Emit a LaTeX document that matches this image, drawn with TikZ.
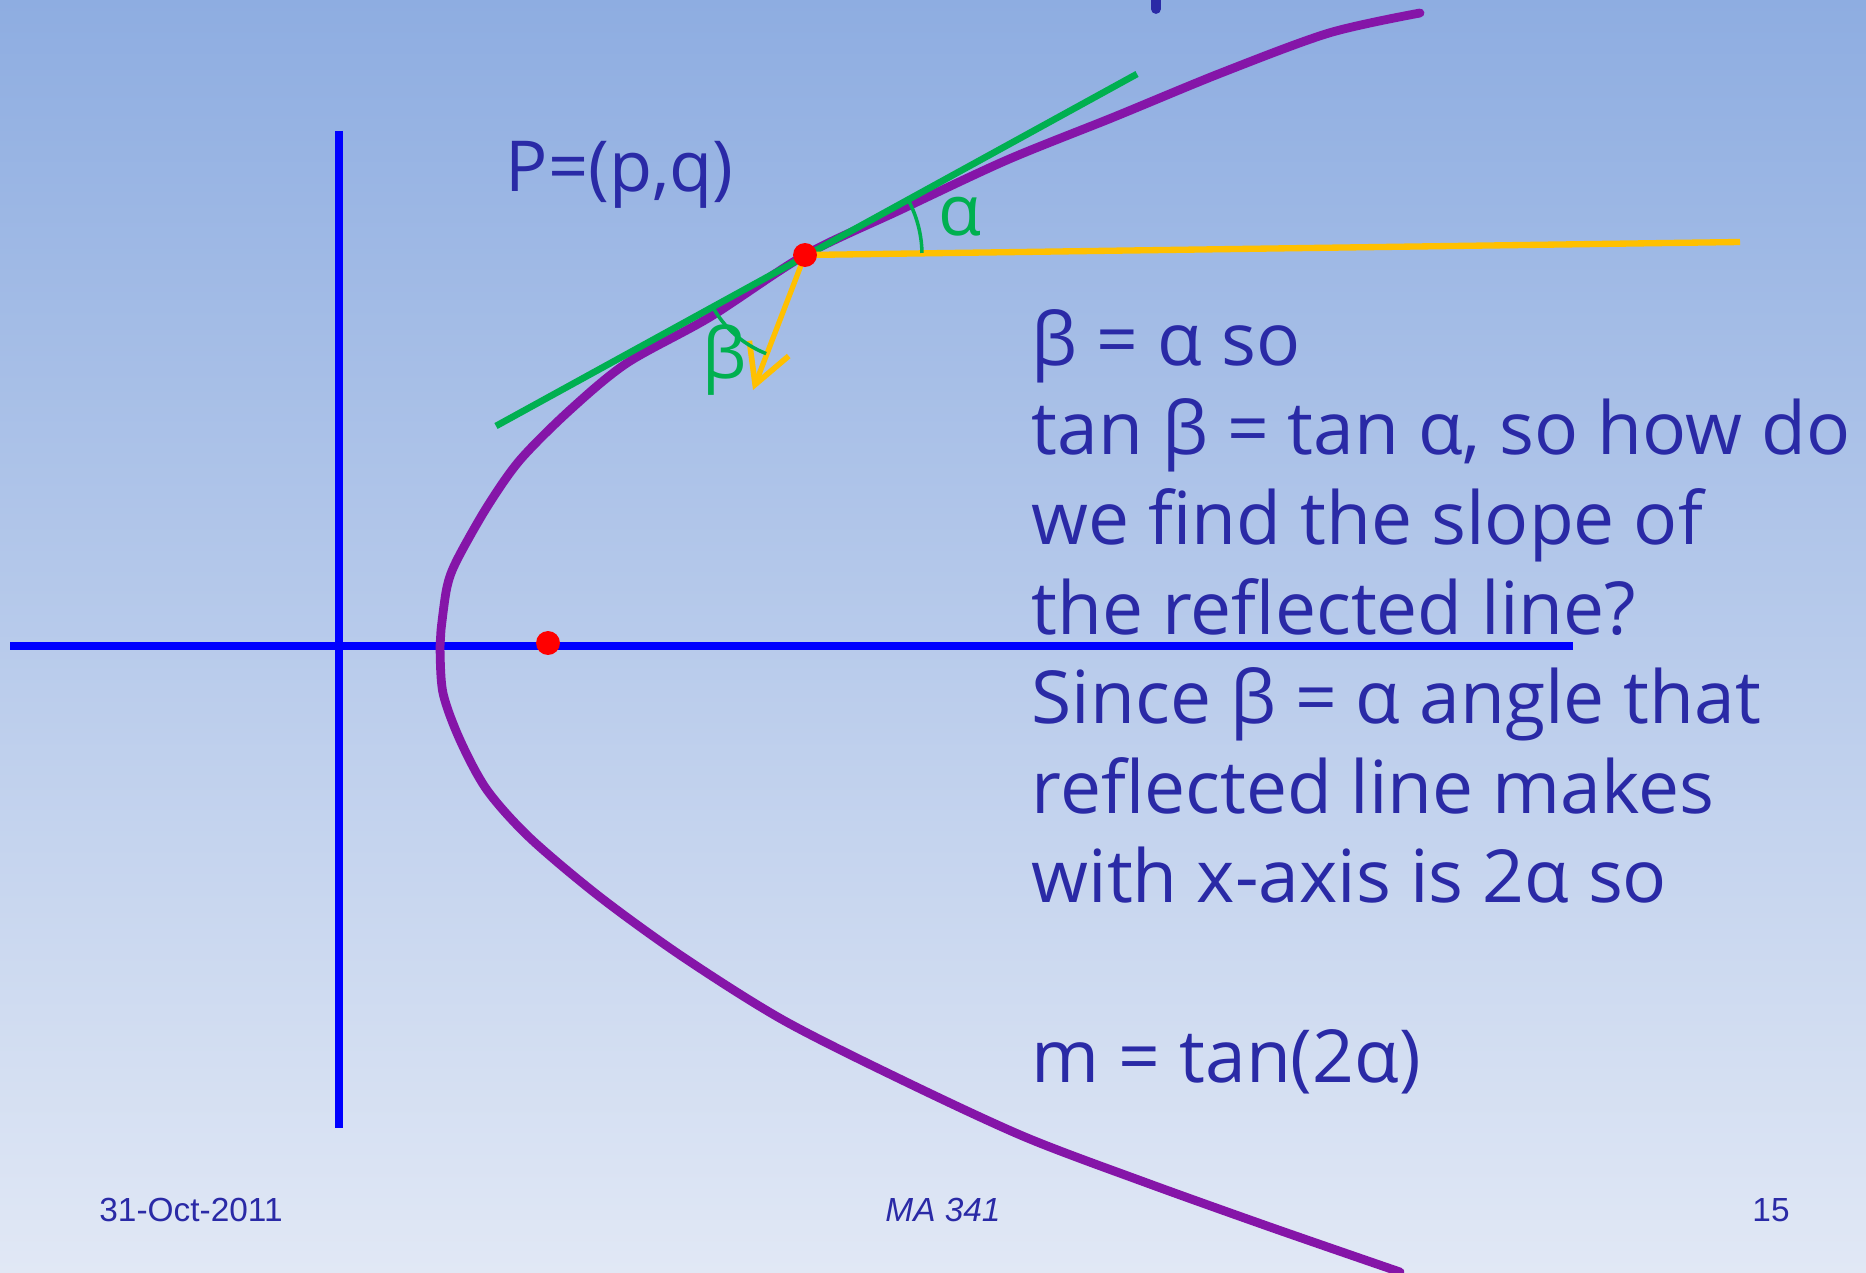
\documentclass[tikz,border=0pt]{standalone}
\usepackage{fontspec}
\setmainfont{Open Sans}
\newfontfamily\footfont{Liberation Sans}
\usetikzlibrary{arrows.meta}
\definecolor{txt}{HTML}{2A2AA6}
\definecolor{bgtop}{HTML}{8EADE1}
\definecolor{bgbot}{HTML}{E1E8F5}
\definecolor{axisblue}{HTML}{0000FF}
\definecolor{curvepurple}{HTML}{8515A8}
\definecolor{tangreen}{HTML}{00B050}
\definecolor{rayorange}{HTML}{FFC000}
\definecolor{dotred}{HTML}{FF0000}
\tikzset{
  axisline/.style={axisblue, line width=2pt},
  curveline/.style={curvepurple, line width=2.5pt, line cap=round, line join=round},
  tanline/.style={tangreen, line width=1.9pt},
  anglearc/.style={tangreen, line width=1pt},
  rayline/.style={rayorange, line width=1.8pt},
  rayarrow/.style={rayorange, line width=1.5pt, line join=miter, -{Straight Barb[length=11pt,width=12pt,line width=1.6pt]}},
  reddot/.style={circle, fill=dotred, minimum size=6.8pt, inner sep=0pt},
  maintext/.style={txt, font=\fontsize{20.8}{25}\selectfont, inner sep=0pt, anchor=base west},
  greenlabel/.style={tangreen, font=\fontsize{20}{24}\selectfont, inner sep=0pt},
  foottext/.style={txt, font=\footfont\fontsize{9.5}{11}\selectfont, inner sep=0pt, anchor=base}
}
\begin{document}
\begin{tikzpicture}[x=0.01cm, y=-0.01cm]
\useasboundingbox (0,0) rectangle (1866,1273);
\shade[top color=bgtop, bottom color=bgbot] (0,0) rectangle (1866,1273);

% axes
\coordinate (ytop) at (339,131);
\coordinate (ybot) at (339,1128);
\coordinate (xleft) at (10,646);
\coordinate (xright) at (1573,646);
\draw[axisline] (ytop) -- (ybot);
\draw[axisline] (xleft) -- (xright);

% glyph fragment at top
\draw[txt, line width=2.8pt, line cap=round] (1156,-8) -- (1156,9);

% parabola-like curve
\draw[curveline] plot[smooth, tension=0.5] coordinates {
 (1420,13) (1329,33) (1221,73) (1114,117) (1007,160) (900,210) (805,255)
 (710,317) (627,363) (570,410) (520,460) (487,507) (457,560) (447,587)
 (441,630) (440,647) (443,693) (460,740) (487,790) (530,838) (600,897)
 (683,957) (783,1020) (902,1080) (1025,1137) (1147,1183) (1270,1227) (1400,1272)};

% tangent line
\coordinate (P) at (805,255);
\coordinate (tanA) at (496,426);
\coordinate (tanB) at (1137,74);
\draw[tanline] (tanA) -- (tanB);

% incoming ray and reflected arrow
\coordinate (rayEnd) at (1740,242);
\coordinate (arrTip) at (753,390);
\draw[rayline] (P) -- (rayEnd);
\draw[rayarrow] (P) -- (arrTip);

% angle arcs
\draw[anglearc] (P) ++(-28.6:117) arc[start angle=-28.6, end angle=-1, radius=117];
\draw[anglearc] (P) ++(151.4:106) arc[start angle=151.4, end angle=111.5, radius=106];

% dots
\node[reddot] (Pdot) at (P) {};
\node[reddot] (Fdot) at (548,643) {};

% labels
\node[greenlabel, anchor=base west] (alpha) at (938,236) {α};
\node[greenlabel, anchor=base west] (beta) at (702,378) {β};
\node[txt, font=\fontsize{20}{24}\selectfont, inner sep=0pt, anchor=base west] (Plabel) at (505,192) {P=(p,q)};

% main text
\node[maintext] (l1) at (1031,365) {β = α so};
\node[maintext] (l2) at (1031,454) {tan β = tan α, so how do};
\node[maintext] (l3) at (1031,544) {we find the slope of};
\node[maintext] (l4) at (1031,634) {the reflected line?};
\node[maintext] (l5) at (1031,723) {Since β = α angle that};
\node[maintext] (l6) at (1031,813) {reflected line makes};
\node[maintext] (l7) at (1031,902) {with x-axis is 2α so};
\node[maintext] (l8) at (1031,1082) {m = tan(2α)};

% footer
\node[foottext] (date) at (191,1221) {31-Oct-2011};
\node[foottext, font=\footfont\itshape\fontsize{9.5}{11}\selectfont] (course) at (943,1221) {MA 341};
\node[foottext] (page) at (1771,1221) {15};
\end{tikzpicture}
\end{document}
